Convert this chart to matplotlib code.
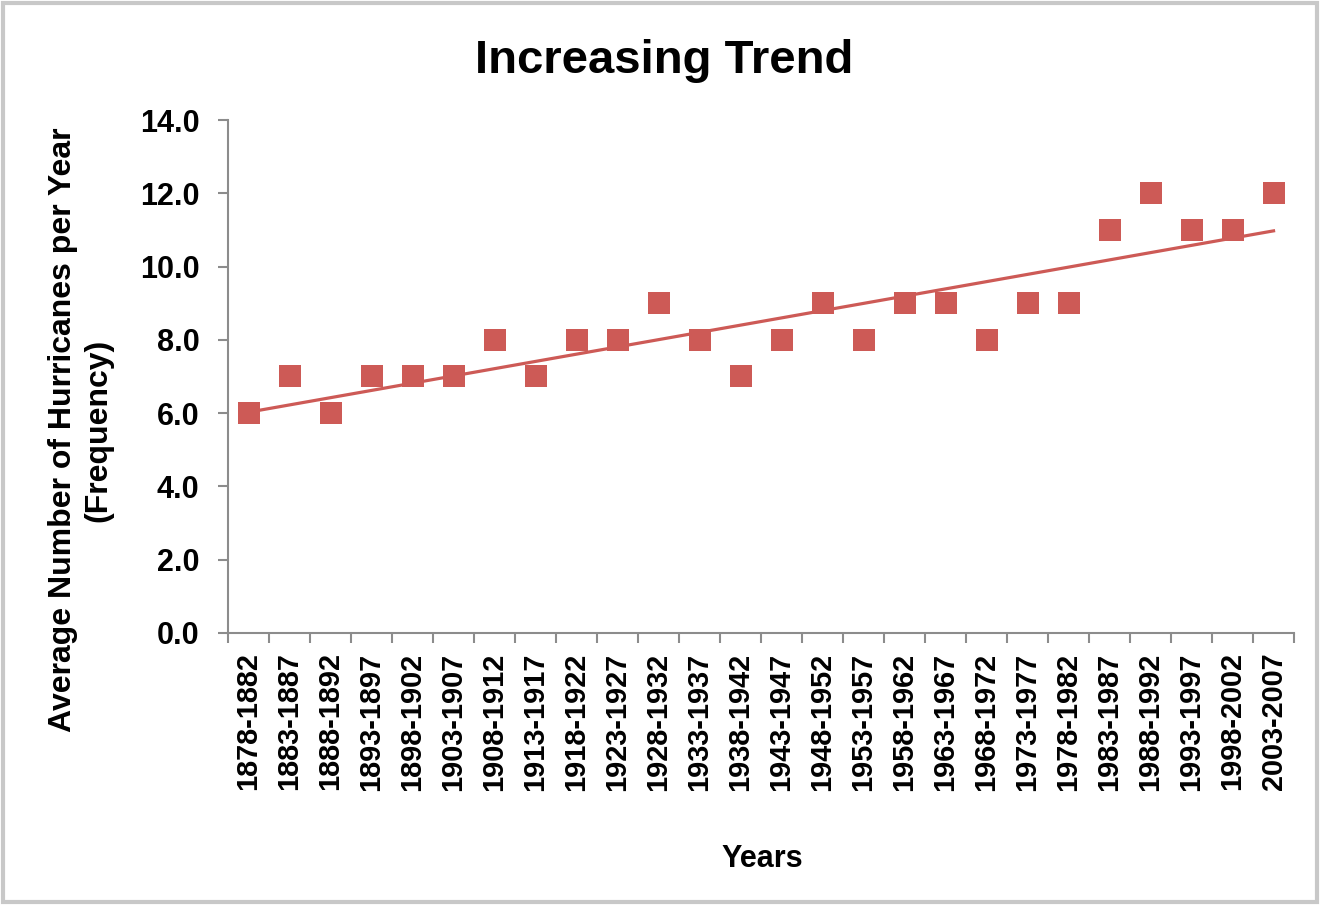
import numpy as np
import matplotlib
matplotlib.use("Agg")
import matplotlib.pyplot as plt
from matplotlib.patches import Rectangle

periods = ["1878-1882", "1883-1887", "1888-1892", "1893-1897", "1898-1902",
           "1903-1907", "1908-1912", "1913-1917", "1918-1922", "1923-1927",
           "1928-1932", "1933-1937", "1938-1942", "1943-1947", "1948-1952",
           "1953-1957", "1958-1962", "1963-1967", "1968-1972", "1973-1977",
           "1978-1982", "1983-1987", "1988-1992", "1993-1997", "1998-2002",
           "2003-2007"]
hurricanes = [6, 7, 6, 7, 7, 7, 8, 7, 8, 8, 9, 8, 7, 8, 9, 8, 9, 9, 8, 9, 9,
              11, 12, 11, 11, 12]
y_ticks = [0, 2, 4, 6, 8, 10, 12, 14]

plt.rcParams['font.family'] = ['Liberation Sans', 'DejaVu Sans']

red = "#CD5A56"
axis_gray = "#8C8C8C"

fig = plt.figure(figsize=(13.21, 9.05), dpi=100)
fig.patches.append(Rectangle((0.002, 0.003), 0.995, 0.994, transform=fig.transFigure,
                             fill=False, edgecolor="#C8C8C8", linewidth=3))
ax = fig.add_axes([0.1726, 0.3006, 0.807, 0.5668])

x = np.arange(len(periods))
ax.scatter(x, hurricanes, marker="s", s=230, color=red, zorder=3, linewidths=0)

# least-squares linear trend through the period averages
slope, intercept = np.polyfit(x, hurricanes, 1)
ax.plot([x[0], x[-1]], [intercept + slope * x[0], intercept + slope * x[-1]],
        color=red, linewidth=2.3, zorder=2)

ax.set_xlim(-0.5, len(periods) - 0.5)
ax.set_ylim(0, 14)
ax.set_yticks(y_ticks)
ax.set_yticklabels([f"{v:.1f}" for v in y_ticks], fontsize=22, fontweight="bold")

ax.set_xticks(x)
ax.set_xticklabels(periods, rotation=90, fontsize=20.8, fontweight="bold")
ax.set_xticks(np.arange(-0.5, len(periods)), minor=True)
ax.tick_params(axis="x", which="major", length=0, pad=14)
ax.tick_params(axis="x", which="minor", length=7.5, width=1.5, color=axis_gray)
ax.tick_params(axis="y", length=7.5, width=1.5, color=axis_gray, pad=13)

for side in ("top", "right"):
    ax.spines[side].set_visible(False)
for side in ("left", "bottom"):
    ax.spines[side].set_color(axis_gray)
    ax.spines[side].set_linewidth(1.5)

fig.text(0.503, 0.9193, "Increasing Trend", fontsize=34, fontweight="bold",
         ha="center", va="baseline")
fig.text(0.5768, 0.042, "Years", fontsize=22, fontweight="bold",
         ha="center", va="baseline")
fig.text(0.0613, 0.525, "Average Number of Hurricanes per Year\n(Frequency)",
         fontsize=23, fontweight="bold", rotation=90, ha="center", va="center",
         multialignment="center", linespacing=1.25)

fig.savefig("out.png", dpi=100)
